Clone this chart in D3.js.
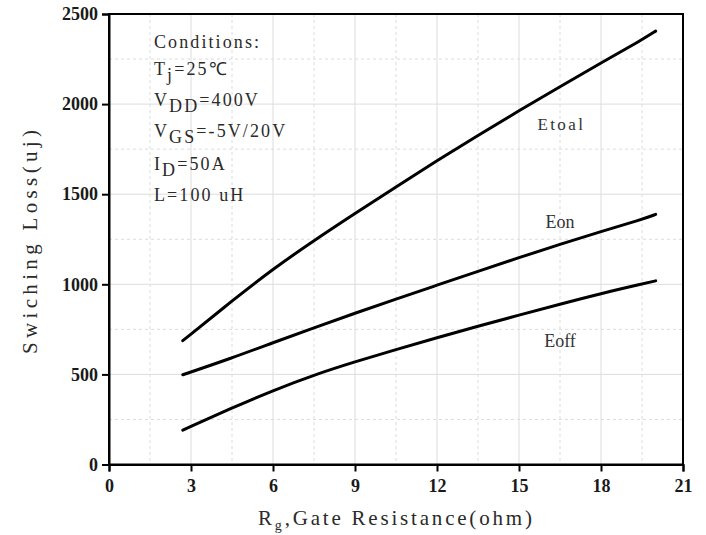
<!DOCTYPE html>
<html>
<head>
<meta charset="utf-8">
<script src="https://cdn.jsdelivr.net/npm/d3@7"></script>
<style>
  html, body { margin: 0; padding: 0; background: #fff; }
  svg { display: block; }
</style>
</head>
<body>
<svg id="chart" width="706" height="535"></svg>
<script>
// ---- data ----
const rg = [2.7, 4.5, 6, 7.5, 9, 10.5, 12, 13.5, 15, 16.5, 18, 19.5, 20];
const etoal = [687, 908, 1085, 1243, 1393, 1541, 1686, 1827, 1963, 2097, 2228, 2357, 2405];
const eon = [498, 591, 676, 759, 840, 918, 995, 1072, 1148, 1222, 1293, 1360, 1388];
const eoff = [191, 314, 411, 497, 570, 638, 704, 767, 829, 890, 949, 1002, 1019];
const xTicks = [0, 3, 6, 9, 12, 15, 18, 21];
const yTicks = [0, 500, 1000, 1500, 2000, 2500];
const xMinor = [1.5, 4.5, 7.5, 10.5, 13.5, 16.5, 19.5];
const yMinor = [250, 750, 1250, 1750, 2250];
const seriesNames = ["Etoal", "Eon", "Eoff"];
const labelPos = [[16.55, 1855], [16.5, 1310], [16.5, 650]];
const conditions = [
  [["Conditions:", false]],
  [["T", false], ["j", true], ["=25℃", false]],
  [["V", false], ["DD", true], ["=400V", false]],
  [["V", false], ["GS", true], ["=-5V/20V", false]],
  [["I", false], ["D", true], ["=50A", false]],
  [["L=100 uH", false]]
];

// ---- layout ----
const svg = d3.select("#chart");
const L = 109, R = 683, T = 14, B = 464.5;
const x = d3.scaleLinear().domain([0, 21]).range([L, R]);
const y = d3.scaleLinear().domain([0, 2500]).range([B, T]);
const textColor = "#2a2a2a";
const serif = "'Liberation Serif', 'Times New Roman', serif";
const condBase = [48, 75, 106, 137, 170, 201];

// grid
const g = svg.append("g");
g.selectAll(".vmaj").data(xTicks.filter(d => d > 0 && d < 21)).join("line")
  .attr("x1", d => x(d)).attr("x2", d => x(d)).attr("y1", T).attr("y2", B)
  .attr("stroke", "#dcdcdc").attr("stroke-width", 1);
g.selectAll(".vmin").data(xMinor).join("line")
  .attr("x1", d => x(d)).attr("x2", d => x(d)).attr("y1", T).attr("y2", B)
  .attr("stroke", "#dcdcdc").attr("stroke-width", 1).attr("stroke-dasharray", "3,3");
g.selectAll(".hmaj").data(yTicks.filter(d => d > 0 && d < 2500)).join("line")
  .attr("y1", d => y(d)).attr("y2", d => y(d)).attr("x1", L).attr("x2", R)
  .attr("stroke", "#dcdcdc").attr("stroke-width", 1);
g.selectAll(".hmin").data(yMinor).join("line")
  .attr("y1", d => y(d)).attr("y2", d => y(d)).attr("x1", L).attr("x2", R)
  .attr("stroke", "#dcdcdc").attr("stroke-width", 1).attr("stroke-dasharray", "3,3");

// curves
const line = d3.line().x(d => x(d[0])).y(d => y(d[1])).curve(d3.curveBasis);
[etoal, eon, eoff].forEach(vals => {
  svg.append("path")
    .datum(rg.map((r, i) => [r, vals[i]]))
    .attr("d", line)
    .attr("fill", "none")
    .attr("stroke", "#000")
    .attr("stroke-width", 3)
    .attr("stroke-linecap", "round");
});

// frame
svg.append("rect").attr("x", L).attr("y", T).attr("width", R - L).attr("height", B - T)
  .attr("fill", "none").attr("stroke", "#000").attr("stroke-width", 2);

// axes
const yAxis = d3.axisLeft(y).tickValues(yTicks).tickSize(7).tickPadding(4).tickFormat(d3.format("d"));
const xAxis = d3.axisBottom(x).tickValues(xTicks).tickSize(7).tickPadding(8).tickFormat(d3.format("d"));
const ya = svg.append("g").attr("transform", `translate(${L},0)`).call(yAxis);
const xa = svg.append("g").attr("transform", `translate(0,${B})`).call(xAxis);
[ya, xa].forEach(a => {
  a.select(".domain").attr("stroke-width", 2).attr("stroke", "#000");
  a.selectAll(".tick line").attr("stroke-width", 2).attr("stroke", "#000");
  a.selectAll(".tick text").attr("font-family", serif).attr("font-size", 18)
    .attr("fill", "#1a1a1a").attr("font-weight", "bold");
});

// axis titles
svg.append("text")
  .attr("transform", "translate(37,242) rotate(-90)")
  .attr("text-anchor", "middle")
  .attr("font-family", serif).attr("font-size", 21).attr("fill", textColor)
  .attr("textLength", 224).attr("lengthAdjust", "spacing")
  .text("Swiching Loss(uj)");

const xt = svg.append("text")
  .attr("x", 258).attr("y", 525)
  .attr("font-family", serif).attr("font-size", 21).attr("fill", textColor)
  .attr("letter-spacing", 2.8);
xt.append("tspan").text("R");
xt.append("tspan").attr("font-size", 14).attr("dy", 5).text("g");
xt.append("tspan").attr("dy", -5).text(",Gate Resistance(ohm)");

// conditions
conditions.forEach((parts, i) => {
  const t = svg.append("text")
    .attr("x", 154).attr("y", condBase[i])
    .attr("font-family", serif).attr("font-size", 18).attr("fill", textColor)
    .attr("letter-spacing", 2.1);
  let sub = false;
  parts.forEach(([s, isSub]) => {
    const ts = t.append("tspan").text(s);
    if (isSub && !sub) { ts.attr("dy", 6); sub = true; }
    else if (!isSub && sub) { ts.attr("dy", -6); sub = false; }
  });
});

// series labels
seriesNames.forEach((n, i) => {
  svg.append("text")
    .attr("x", x(labelPos[i][0])).attr("y", y(labelPos[i][1]))
    .attr("text-anchor", "middle")
    .attr("font-family", serif)
    .attr("font-size", i === 0 ? 17 : 18)
    .attr("letter-spacing", i === 0 ? 2.4 : 0)
    .attr("fill", "#333")
    .text(n);
});
</script>
</body>
</html>
